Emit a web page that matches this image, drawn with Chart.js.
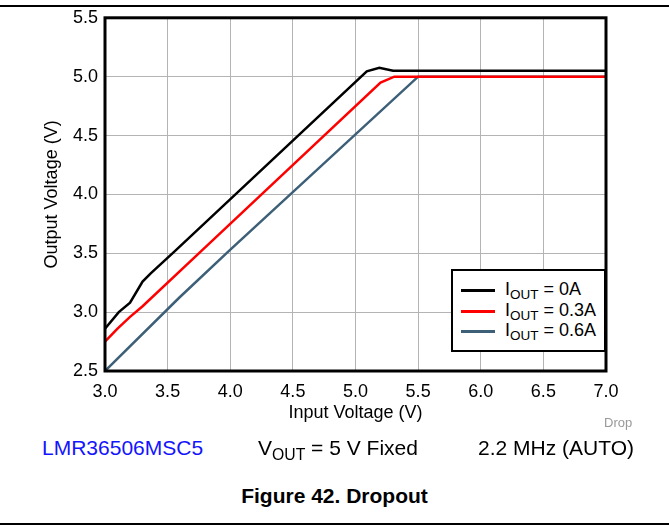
<!DOCTYPE html>
<html>
<head>
<meta charset="utf-8">
<script src="https://cdn.jsdelivr.net/npm/chart.js@4"></script>
<style>
  body { margin: 0; background: #fff; font-family: "Liberation Sans", Arial, sans-serif; }
  #wrap { position: relative; width: 669px; height: 529px; overflow: hidden; }
  #chart { position: absolute; left: 0; top: 0; }
  .rule { position: absolute; left: 0; width: 669px; height: 2px; background: #000; }
  .txt { position: absolute; white-space: nowrap; line-height: 1; }
  #legend { position: absolute; left: 451px; top: 269px; width: 155px; height: 83px;
            box-sizing: border-box; border: 2px solid #000; background: #fff; }
  .item { position: absolute; left: 8px; height: 20px; font-size: 18px; }
  .item .swatch { position: absolute; left: 0; top: 9px; width: 34px; height: 3px; }
  .item .lbl { position: absolute; left: 44px; top: -1px; white-space: nowrap; }
  sub { font-size: 0.75em; vertical-align: -0.3em; line-height: 0; }
</style>
</head>
<body>
<div id="wrap">
  <div class="rule" style="top:5px"></div>
  <canvas id="chart" width="669" height="430"></canvas>
  <div id="legend"></div>
  <div class="txt" style="left:604px; top:416px; font-size:13px; color:#999;">Drop</div>
  <div class="txt" style="left:42px; top:437px; font-size:21px; color:#1414ff;">LMR36506MSC5</div>
  <div class="txt" style="left:258px; top:437px; font-size:21px;">V<sub>OUT</sub> = 5 V Fixed</div>
  <div class="txt" style="right:35px; top:437px; font-size:21px;">2.2 MHz (AUTO)</div>
  <div class="txt" style="left:0; width:669px; text-align:center; top:485px; font-size:21px; font-weight:bold;">Figure 42. Dropout</div>
  <div class="rule" style="top:523px"></div>
</div>
<script>
// Input voltage (V) / output voltage (V)
const vin0  = [3.0, 3.11, 3.2, 3.3, 3.365, 3.56, 5.09, 5.19, 5.3, 7.0];
const vout0 = [2.86, 3.0, 3.08, 3.26, 3.33, 3.52, 5.045, 5.075, 5.05, 5.05];

const vin3  = [3.0, 3.1, 3.2, 3.3, 3.77, 5.2, 5.31, 7.0];
const vout3 = [2.75, 2.86, 2.96, 3.05, 3.52, 4.95, 5.0, 5.0];

const vin6  = [3.0, 3.59, 3.99, 5.5, 7.0];
const vout6 = [2.5, 3.12, 3.52, 5.0, 5.0];

const seriesNames  = ['0A', '0.3A', '0.6A'];
const seriesColors = ['#000000', '#ff0000', '#3d6078'];

const xTicks = [3.0, 3.5, 4.0, 4.5, 5.0, 5.5, 6.0, 6.5, 7.0];
const yTicks = [2.5, 3.0, 3.5, 4.0, 4.5, 5.0, 5.5];

function pts(xs, ys) {
    return xs.map((x, i) => ({ x: x, y: ys[i] }));
}
const allData = [pts(vin0, vout0), pts(vin3, vout3), pts(vin6, vout6)];

// legend with subscripts
const legend = document.getElementById('legend');
seriesNames.forEach((name, i) => {
    const it = document.createElement('div');
    it.className = 'item';
    it.style.top = (9 + i * 20.7) + 'px';
    it.innerHTML = '<div class="swatch" style="background:' + seriesColors[i] + '"></div>' +
        '<div class="lbl">I<sub>OUT</sub> = ' + name + '</div>';
    legend.appendChild(it);
});

// box round the plot area
const frame = {
    id: 'frame',
    afterDatasetsDraw(chart) {
        const a = chart.chartArea, c = chart.ctx;
        c.save();
        c.strokeStyle = '#000';
        c.lineWidth = 3;
        c.strokeRect(a.left, a.top, a.right - a.left, a.bottom - a.top);
        c.restore();
    }
};

const font = { family: '"Liberation Sans", Arial, sans-serif', size: 18 };

new Chart(document.getElementById('chart'), {
    type: 'scatter',
    data: {
        datasets: allData.map((d, i) => ({
            label: 'IOUT = ' + seriesNames[i],
            data: d,
            showLine: true,
            borderColor: seriesColors[i],
            borderWidth: 2.5,
            pointRadius: 0,
            tension: 0
        }))
    },
    options: {
        responsive: false,
        animation: false,
        devicePixelRatio: 1,
        layout: { padding: { top: 16, right: 63, bottom: 0, left: 0 } },
        plugins: { legend: { display: false }, tooltip: { enabled: false } },
        scales: {
            x: {
                type: 'linear',
                min: 3, max: 7,
                afterFit: s => { s.height = 59; },
                afterBuildTicks: s => { s.ticks = xTicks.map(v => ({ value: v })); },
                grid: { color: '#b4b4b4', lineWidth: 1, drawTicks: false },
                border: { display: false },
                ticks: { color: '#000', font: font, padding: 10, callback: v => v.toFixed(1) },
                title: { display: true, text: 'Input Voltage (V)', color: '#000', font: font, padding: { top: 0, bottom: 6 } }
            },
            y: {
                min: 2.5, max: 5.5,
                afterFit: s => { s.width = 105; },
                afterBuildTicks: s => { s.ticks = yTicks.map(v => ({ value: v })); },
                grid: { color: '#b4b4b4', lineWidth: 1, drawTicks: false },
                border: { display: false },
                ticks: { color: '#000', font: font, padding: 7, callback: v => v.toFixed(1) },
                title: { display: true, text: 'Output Voltage (V)', color: '#000', font: font, padding: { top: 41, bottom: 0 } }
            }
        }
    },
    plugins: [frame]
});
</script>
</body>
</html>
